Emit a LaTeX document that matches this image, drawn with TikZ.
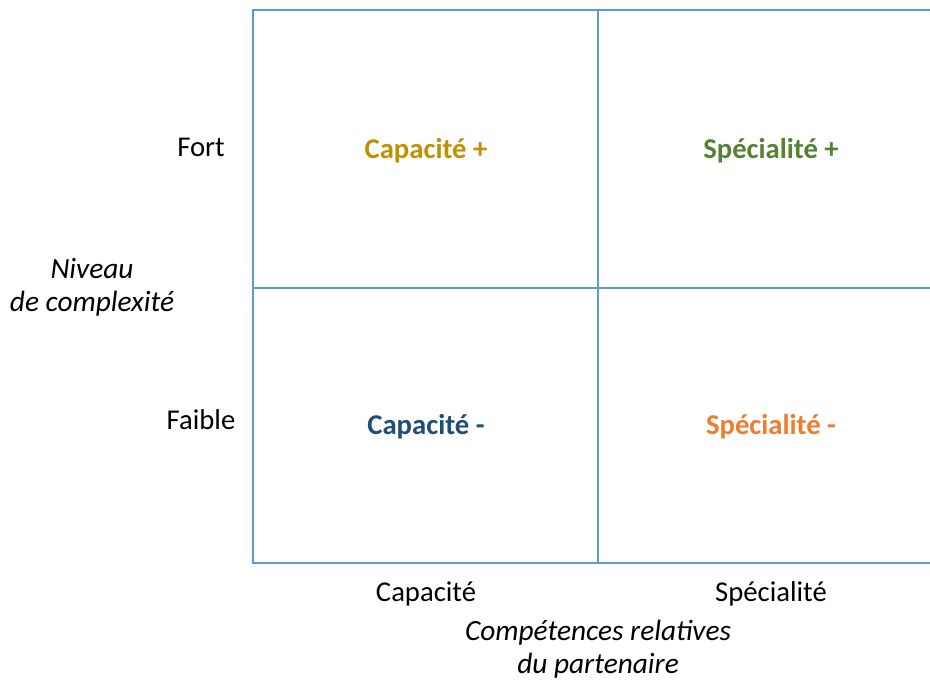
\documentclass[tikz,border=0pt]{standalone}
\usepackage{fontspec}
\setmainfont{Carlito}
\definecolor{gridblue}{HTML}{5B9BD5}
\definecolor{cgold}{HTML}{BF9000}
\definecolor{cgreen}{HTML}{548235}
\definecolor{cblue}{HTML}{1F4E79}
\definecolor{corange}{HTML}{ED7D31}
\tikzset{
  gridline/.style={draw=gridblue, line width=1.5pt},
  axislabel/.style={font=\fontsize{21.5}{26}\selectfont, text=black, inner sep=0pt, align=center},
  axistitle/.style={font=\fontsize{22}{24.5}\selectfont\itshape, text=black, inner sep=0pt, align=center},
  quadlabel/.style={font=\fontsize{21.5}{26}\selectfont\bfseries, inner sep=0pt}
}
\begin{document}
\begin{tikzpicture}[x=0.75pt, y=-0.75pt]
\useasboundingbox (0,0) rectangle (930,679);
% grid corners
\coordinate (tl) at (253,10);
\coordinate (tm) at (598,10);
\coordinate (tr) at (931,10);
\coordinate (ml) at (253,288);
\coordinate (mr) at (931,288);
\coordinate (bl) at (253,563);
\coordinate (bm) at (598,563);
\coordinate (br) at (931,563);
\draw[gridline] (tr) -- (tl) -- (bl) -- (br);
\draw[gridline] (ml) -- (mr);
\draw[gridline] (tm) -- (bm);
% quadrant labels
\node[quadlabel, text=cgold] (q1) at (426,151) {Capacité +};
\node[quadlabel, text=cgreen] (q2) at (771,151) {Spécialité +};
\node[quadlabel, text=cblue] (q3) at (426,427) {Capacité -};
\node[quadlabel, text=corange] (q4) at (771,427) {Spécialité -};
% axis labels
\node[axislabel] (fort) at (201,147) {Fort};
\node[axislabel] (faible) at (201,420) {Faible};
\node[axistitle] (ytitle) at (92,287) {Niveau\\de complexité};
\node[axislabel] (xcap) at (426,594) {Capacité};
\node[axislabel] (xspe) at (771,594) {Spécialité};
\node[axistitle] (xtitle) at (598,649) {Compétences relatives\\du partenaire};
\end{tikzpicture}
\end{document}
